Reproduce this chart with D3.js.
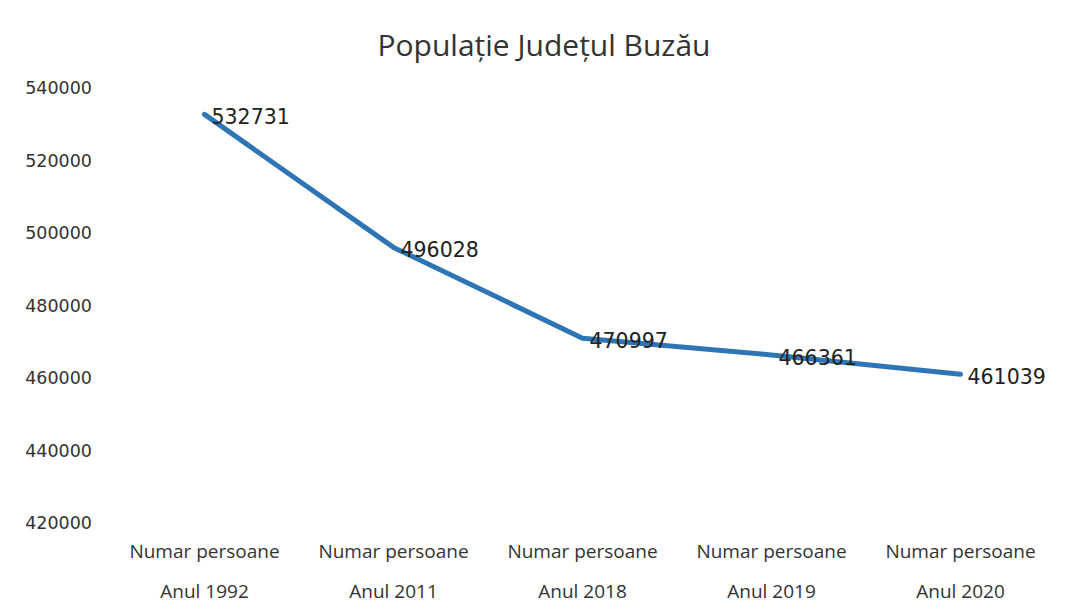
<!DOCTYPE html>
<html>
<head>
<meta charset="UTF-8" />
<title>Populație Județul Buzău</title>
<script src="https://d3js.org/d3.v7.min.js"></script>
<style>
  body { margin: 0; background: #fff; }
  text { fill: #333; }
  .title { font-family: "Open Sans", "Noto Sans", sans-serif; font-size: 30px; }
  .tick-y { font-family: "DejaVu Sans", sans-serif; font-size: 17.5px; }
  .cat { font-family: "Liberation Sans Narrow", "Open Sans", sans-serif; font-size: 19px; }
  .lbl { font-family: "DejaVu Sans", sans-serif; font-size: 20.5px; fill: #222; }
</style>
</head>
<body>
<svg id="chart" width="1068" height="607"></svg>
<script>
  const categoryLines = ["Numar persoane", "Numar persoane", "Numar persoane", "Numar persoane", "Numar persoane"];
  const categoryYears = ["Anul 1992", "Anul 2011", "Anul 2018", "Anul 2019", "Anul 2020"];
  const values = [532731, 496028, 470997, 466361, 461039];
  const yTicks = [420000, 440000, 460000, 480000, 500000, 520000, 540000];

  const svg = d3.select("#chart");
  const margin = { left: 110, right: 13, top: 88, bottom: 84 };
  const width = 1068, height = 607;

  const x = d3.scaleBand()
    .domain(categoryYears)
    .range([margin.left, width - margin.right]);

  const y = d3.scaleLinear()
    .domain([420000, 540000])
    .range([height - margin.bottom, margin.top]);

  svg.append("text")
    .attr("class", "title")
    .attr("x", 544)
    .attr("y", 56)
    .attr("text-anchor", "middle")
    .text("Populație Județul Buzău");

  // etichete axa y, fara linie si fara grila
  const yAxis = d3.axisLeft(y).tickValues(yTicks).tickSize(0).tickPadding(0).tickFormat(d3.format("d"));
  const gy = svg.append("g")
    .attr("transform", "translate(92,0)")
    .call(yAxis);
  gy.select(".domain").remove();
  gy.selectAll("text").attr("class", "tick-y").attr("fill", "#333");

  // etichete categorii, pe doua randuri
  const cats = svg.append("g");
  categoryYears.forEach((c, i) => {
    const cx = x(c) + x.bandwidth() / 2;
    cats.append("text").attr("class", "cat").attr("x", cx).attr("y", 558)
      .attr("text-anchor", "middle").text(categoryLines[i]);
    cats.append("text").attr("class", "cat").attr("x", cx).attr("y", 598)
      .attr("text-anchor", "middle").text(c);
  });

  const line = d3.line()
    .x((d, i) => x(categoryYears[i]) + x.bandwidth() / 2)
    .y(d => y(d));

  svg.append("path")
    .datum(values)
    .attr("fill", "none")
    .attr("stroke", "#2E75B6")
    .attr("stroke-width", 5)
    .attr("stroke-linejoin", "round")
    .attr("stroke-linecap", "round")
    .attr("d", line);

  svg.selectAll(".lbl")
    .data(values)
    .enter().append("text")
    .attr("class", "lbl")
    .attr("x", (d, i) => x(categoryYears[i]) + x.bandwidth() / 2 + 7)
    .attr("y", d => y(d) + 10)
    .text(d => d);
</script>
</body>
</html>
